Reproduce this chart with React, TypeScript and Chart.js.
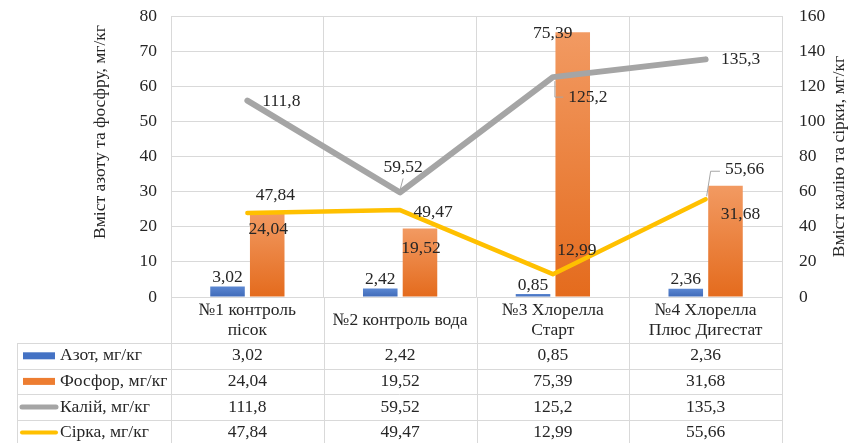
import React, { useEffect, useRef } from 'react';
import { Chart, registerables } from 'chart.js';

Chart.register(...registerables);

// ---- data ----
const categories: string[][] = [
  ['№1 контроль', 'пісок'],
  ['№2 контроль вода'],
  ['№3 Хлорелла', 'Старт'],
  ['№4 Хлорелла', 'Плюс Дигестат'],
];
const azot = [3.02, 2.42, 0.85, 2.36];
const fosfor = [24.04, 19.52, 75.39, 31.68];
const kaliy = [111.8, 59.52, 125.2, 135.3];
const sirka = [47.84, 49.47, 12.99, 55.66];
const seriesNames = ['Азот, мг/кг', 'Фосфор, мг/кг', 'Калій, мг/кг', 'Сірка, мг/кг'];
const leftTitle = 'Вміст азоту та фосфру, мг/кг';
const rightTitle = 'Вміст калію та сірки, мг/кг';
const leftAxis = { min: 0, max: 80, step: 10 };
const rightAxis = { min: 0, max: 160, step: 20 };

// ---- styles (label placement, not data) ----
const FONT_FAMILY = '"Liberation Serif", "Times New Roman", serif';
const FONT_SIZE = 17.5;
const TEXT = '#262626';
const GRID = '#D9D9D9';
const labelOffsets: number[][][] = [
  [[0, -9], [0, -9], [0, -9], [0, -9]],
  [[1, 17], [1, 20], [-20, 1], [15, 29]],
  [[34, 1], [3, -25], [35, 20], [35, 0]],
  [[28, -18], [33, 2], [24, -24], [39, -30]],
];
// leader line types per series/point
const leaders: Record<string, string> = { '2-1': 'v', '2-2': 'down', '3-3': 'up' };

const fmt = (v: number) => String(v).replace('.', ',');

function barGradient(top: string, bottom: string) {
  return (c: any) => {
    const chart = c.chart;
    const ys = chart.scales && chart.scales.y;
    if (!ys || c.raw == null) return bottom;
    const y0 = ys.getPixelForValue(c.raw);
    const y1 = ys.getPixelForValue(0);
    if (!isFinite(y0) || !isFinite(y1) || y0 === y1) return bottom;
    const g = chart.ctx.createLinearGradient(0, y0, 0, y1);
    g.addColorStop(0, top);
    g.addColorStop(1, bottom);
    return g;
  };
}

const overlayPlugin = {
  id: 'overlay',
  afterDatasetsDraw(chart: any) {
    const ctx = chart.ctx;
    ctx.save();
    ctx.font = `${FONT_SIZE}px ${FONT_FAMILY}`;
    ctx.fillStyle = TEXT;
    ctx.textAlign = 'center';
    ctx.textBaseline = 'middle';
    chart.data.datasets.forEach((ds: any, si: number) => {
      const meta = chart.getDatasetMeta(si);
      meta.data.forEach((el: any, j: number) => {
        const off = labelOffsets[si][j];
        const lx = el.x + off[0];
        const ly = el.y + off[1];
        const txt = fmt(ds.data[j]);
        const w = ctx.measureText(txt).width;
        const lt = leaders[`${si}-${j}`];
        if (lt) {
          ctx.save();
          ctx.strokeStyle = '#A6A6A6';
          ctx.lineWidth = 1;
          ctx.beginPath();
          if (lt === 'v') {
            ctx.moveTo(lx, ly + 11);
            ctx.lineTo(el.x, el.y - 3);
          } else if (lt === 'down') {
            ctx.moveTo(el.x + 2, el.y + 4);
            ctx.lineTo(el.x + 2, ly);
            ctx.lineTo(lx - w / 2 - 5, ly);
          } else {
            ctx.moveTo(el.x + 1, el.y - 3);
            ctx.lineTo(el.x + 5, ly + 2);
            ctx.lineTo(lx - w / 2 - 5, ly + 2);
          }
          ctx.stroke();
          ctx.restore();
        }
        ctx.fillText(txt, lx, ly);
      });
    });
    ctx.restore();
  },
  afterDraw(chart: any) {
    const ctx = chart.ctx;
    const ca = chart.chartArea;
    const xs = chart.scales.x;
    const H = chart.height;
    const n = categories.length;
    const cw = (ca.right - ca.left) / n;
    const tableTop = ca.bottom + 46;
    const rowH = 25.6;
    const tableLeft = 17;
    ctx.save();
    // grid extensions
    ctx.strokeStyle = GRID;
    ctx.lineWidth = 1;
    ctx.beginPath();
    for (let k = 0; k <= n; k++) {
      const x = Math.round(ca.left + k * cw) + 0.5;
      ctx.moveTo(x, ca.bottom);
      ctx.lineTo(x, H);
    }
    ctx.moveTo(tableLeft + 0.5, tableTop);
    ctx.lineTo(tableLeft + 0.5, H);
    for (let r = 0; r < 4; r++) {
      const y = Math.round(tableTop + r * rowH) + 0.5;
      ctx.moveTo(tableLeft, y);
      ctx.lineTo(ca.right, y);
    }
    ctx.stroke();

    ctx.font = `${FONT_SIZE}px ${FONT_FAMILY}`;
    ctx.fillStyle = TEXT;
    ctx.textBaseline = 'middle';
    ctx.textAlign = 'center';
    // category labels
    categories.forEach((lab, i) => {
      const cx = xs.getPixelForValue(i);
      const cy = ca.bottom + 23;
      lab.forEach((line, k) => {
        ctx.fillText(line, cx, cy + (k - (lab.length - 1) / 2) * 20);
      });
    });
    // table rows
    chart.data.datasets.forEach((ds: any, si: number) => {
      const cy = tableTop + (si + 0.5) * rowH;
      ctx.textAlign = 'center';
      ctx.fillStyle = TEXT;
      ds.data.forEach((v: number, i: number) => {
        ctx.fillText(fmt(v), xs.getPixelForValue(i), cy);
      });
      // legend key
      if (ds.type === 'bar') {
        ctx.fillStyle = ds.keyColor;
        ctx.fillRect(23, cy - 3.5, 32, 7);
      } else {
        ctx.strokeStyle = ds.borderColor;
        ctx.lineWidth = ds.keyWidth;
        ctx.lineCap = 'round';
        ctx.beginPath();
        ctx.moveTo(22, cy);
        ctx.lineTo(56, cy);
        ctx.stroke();
      }
      ctx.fillStyle = TEXT;
      ctx.textAlign = 'left';
      ctx.fillText(ds.label, 60, cy);
    });

    // axis titles
    ctx.textAlign = 'center';
    ctx.save();
    ctx.translate(100, 132);
    ctx.rotate(-Math.PI / 2);
    ctx.fillText(leftTitle, 0, 0);
    ctx.restore();
    ctx.save();
    ctx.translate(839, (ca.top + ca.bottom) / 2);
    ctx.rotate(-Math.PI / 2);
    ctx.fillText(rightTitle, 0, 0);
    ctx.restore();
    ctx.restore();
  },
};

export default function App() {
  const ref = useRef<HTMLCanvasElement>(null);
  useEffect(() => {
    if (!ref.current) return;
    const font = { family: FONT_FAMILY, size: FONT_SIZE };
    const noPad = (s: any) => {
      s.paddingTop = 0;
      s.paddingBottom = 0;
      s.paddingLeft = 0;
      s.paddingRight = 0;
    };
    const chart = new Chart(ref.current, {
      type: 'bar',
      data: {
        labels: categories.map((c) => c.join(' ')),
        datasets: [
          {
            type: 'bar',
            label: seriesNames[0],
            data: azot,
            yAxisID: 'y',
            backgroundColor: barGradient('#5B87D2', '#3F6AB8'),
            keyColor: '#4472C4',
            order: 2,
            categoryPercentage: 0.52,
            barPercentage: 0.87,
          } as any,
          {
            type: 'bar',
            label: seriesNames[1],
            data: fosfor,
            yAxisID: 'y',
            backgroundColor: barGradient('#F29A62', '#E46B1D'),
            keyColor: '#ED7D31',
            order: 2,
            categoryPercentage: 0.52,
            barPercentage: 0.87,
          } as any,
          {
            type: 'line',
            label: seriesNames[2],
            data: kaliy,
            yAxisID: 'y1',
            borderColor: '#A5A5A5',
            borderWidth: 6,
            keyWidth: 5,
            borderCapStyle: 'round',
            borderJoinStyle: 'round',
            pointRadius: 0,
            tension: 0,
            order: 1,
          } as any,
          {
            type: 'line',
            label: seriesNames[3],
            data: sirka,
            yAxisID: 'y1',
            borderColor: '#FFC000',
            borderWidth: 4.5,
            keyWidth: 4,
            borderCapStyle: 'round',
            borderJoinStyle: 'round',
            pointRadius: 0,
            tension: 0,
            order: 0,
          } as any,
        ],
      },
      options: {
        responsive: false,
        animation: false,
        devicePixelRatio: 1,
        layout: { padding: { left: 0, top: 16, right: 0, bottom: 0 } },
        plugins: { legend: { display: false }, tooltip: { enabled: false } },
        scales: {
          x: {
            offset: true,
            grid: { color: GRID, drawTicks: false, offset: true },
            border: { display: false },
            ticks: { display: false },
            afterFit: (s: any) => { s.height = 146; noPad(s); },
          },
          y: {
            position: 'left',
            min: leftAxis.min,
            max: leftAxis.max,
            ticks: { stepSize: leftAxis.step, padding: 14, font, color: TEXT },
            grid: { color: GRID, drawTicks: false },
            border: { display: false },
            afterFit: (s: any) => { s.width = 171; noPad(s); },
          },
          y1: {
            position: 'right',
            min: rightAxis.min,
            max: rightAxis.max,
            ticks: { stepSize: rightAxis.step, padding: 17, font, color: TEXT },
            grid: { display: false, drawTicks: false },
            border: { display: false },
            afterFit: (s: any) => { s.width = 66; noPad(s); },
          },
        },
      } as any,
      plugins: [overlayPlugin],
    });
    return () => chart.destroy();
  }, []);
  return (
    <div style={{ position: 'absolute', left: 0, top: 0, width: 848, height: 443 }}>
      <canvas ref={ref} width={848} height={443} style={{ width: 848, height: 443, display: 'block' }} />
    </div>
  );
}
